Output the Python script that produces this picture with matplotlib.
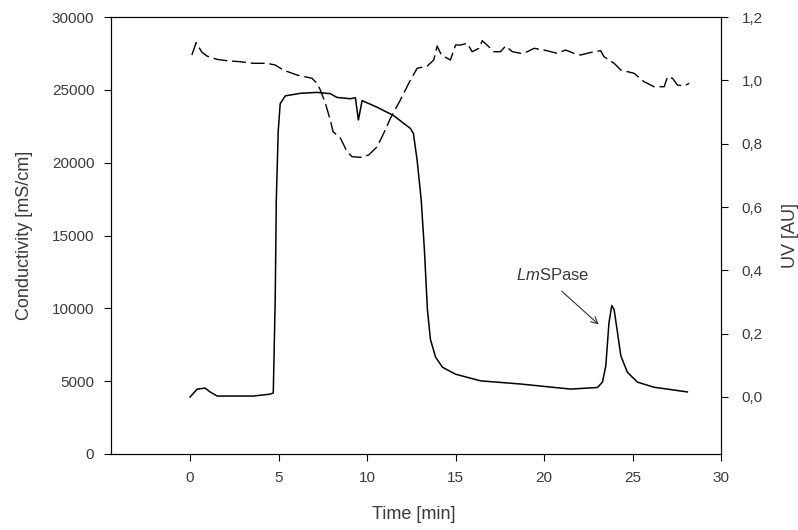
import matplotlib.pyplot as plt
import matplotlib.ticker as mticker

plt.rcParams['font.family'] = ['Liberation Sans', 'DejaVu Sans']
plt.rcParams['mathtext.fontset'] = 'custom'
plt.rcParams['mathtext.rm'] = 'Liberation Sans'
plt.rcParams['mathtext.it'] = 'Liberation Sans:italic'

# UV trace (solid, right axis)
uv_time = [0, 0.40, 0.85, 1.13, 1.53, 3.57, 4.53, 4.70, 4.81, 4.87, 4.98, 5.09,
           5.38, 6.23, 7.17, 7.92, 8.30, 9.06, 9.34, 9.51, 9.72, 10.57, 11.49,
           12.45, 12.62, 12.83, 13.06, 13.24, 13.41, 13.58, 13.87, 14.26, 15.0,
           16.41, 18.68, 21.5, 23.02, 23.3, 23.49, 23.67, 23.83, 23.96, 24.15,
           24.34, 24.71, 25.28, 26.2, 28.1]
uv = [0.0, 0.025, 0.028, 0.016, 0.003, 0.003, 0.009, 0.013, 0.31, 0.62, 0.84, 0.926,
      0.951, 0.959, 0.962, 0.958, 0.946, 0.942, 0.945, 0.875, 0.936, 0.915, 0.889,
      0.848, 0.832, 0.747, 0.622, 0.465, 0.276, 0.182, 0.126, 0.094, 0.072,
      0.051, 0.041, 0.025, 0.030, 0.047, 0.098, 0.235, 0.289, 0.276, 0.204,
      0.130, 0.078, 0.047, 0.031, 0.016]

# Conductivity trace (dashed, left axis)
cond_time = [0.10, 0.34, 0.66, 0.95, 1.51, 2.08, 2.83, 3.57, 4.34, 4.81, 5.26, 6.04,
             6.89, 7.17, 7.36, 7.64, 7.92, 8.08, 8.49, 8.87, 9.15, 9.62, 10.09,
             10.57, 10.94, 11.32, 11.88, 12.45, 12.83, 13.40, 13.77, 13.96, 14.2,
             14.71, 15.0, 15.28, 15.66, 15.94, 16.32, 16.51, 16.88, 17.16, 17.54,
             17.83, 18.21, 18.68, 19.06, 19.43, 20.0, 20.75, 21.22, 21.69, 22.07,
             22.45, 22.82, 23.20, 23.39, 23.96, 24.34, 25.09, 25.65, 26.22, 26.79,
             26.98, 27.26, 27.54, 27.92, 28.2]
cond = [27391, 28236, 27597, 27323, 27096, 27000, 26931, 26822, 26822, 26705, 26362, 26018,
        25792, 25449, 24989, 24096, 22929, 22126, 21693, 20753, 20410, 20368, 20526,
        21096, 22016, 23046, 24302, 25675, 26478, 26636, 27048, 28009, 27391,
        27048, 28078, 28078, 28195, 27618, 27851, 28373, 27961, 27618, 27618,
        28009, 27618, 27508, 27618, 27851, 27735, 27508, 27735, 27508, 27391,
        27508, 27618, 27687, 27275, 26822, 26362, 26135, 25559, 25215, 25215,
        25902, 25792, 25332, 25263, 25449]

cond_ticks = [0, 5000, 10000, 15000, 20000, 25000, 30000]
uv_ticks = [0.0, 0.2, 0.4, 0.6, 0.8, 1.0, 1.2]
time_ticks = [0, 5, 10, 15, 20, 25, 30]

txt = '#3a3a3a'

fig = plt.figure(figsize=(7.98, 5.30), dpi=100)
ax = fig.add_axes([0.1391, 0.1434, 0.7644, 0.8245])
ax2 = ax.twinx()

ax.plot(cond_time, cond, color='black', lw=1.0, dashes=(10, 3.5))
ax2.plot(uv_time, uv, color='black', lw=1.1)

ax.set_xlim(-4.47, 30)
ax.set_ylim(0, 30000)
ax2.set_ylim(-0.18, 1.2)

ax.set_xticks(time_ticks)
ax.set_yticks(cond_ticks)
ax2.set_yticks(uv_ticks)
ax2.yaxis.set_major_formatter(mticker.FuncFormatter(lambda v, p: f'{v:.1f}'.replace('.', ',')))

for a in (ax, ax2):
    a.tick_params(length=5, width=0.8, labelsize=11, labelcolor=txt, direction='out')
    for s in a.spines.values():
        s.set_linewidth(0.8)
ax.tick_params(axis='y', pad=7)
ax.tick_params(axis='x', pad=7)
ax2.tick_params(axis='y', pad=10)

ax.set_xlabel('Time [min]', fontsize=13, color=txt)
ax.set_ylabel('Conductivity [mS/cm]', fontsize=13, color=txt)
ax2.set_ylabel('UV [AU]', fontsize=13, color=txt)
ax.xaxis.set_label_coords(0.497, -0.12)
ax.yaxis.set_label_coords(-0.128, 0.5)
ax2.yaxis.set_label_coords(1.1, 0.5)

ax2.annotate(r'$\it{Lm}$SPase', xy=(23.09, 0.229), xytext=(18.4, 0.386),
             fontsize=12, color=txt, ha='left', va='center',
             arrowprops=dict(arrowstyle='->', color='#333333', lw=0.8,
                             relpos=(0.5, 0.0), shrinkA=6, shrinkB=0))

fig.savefig('out.png', dpi=100)
